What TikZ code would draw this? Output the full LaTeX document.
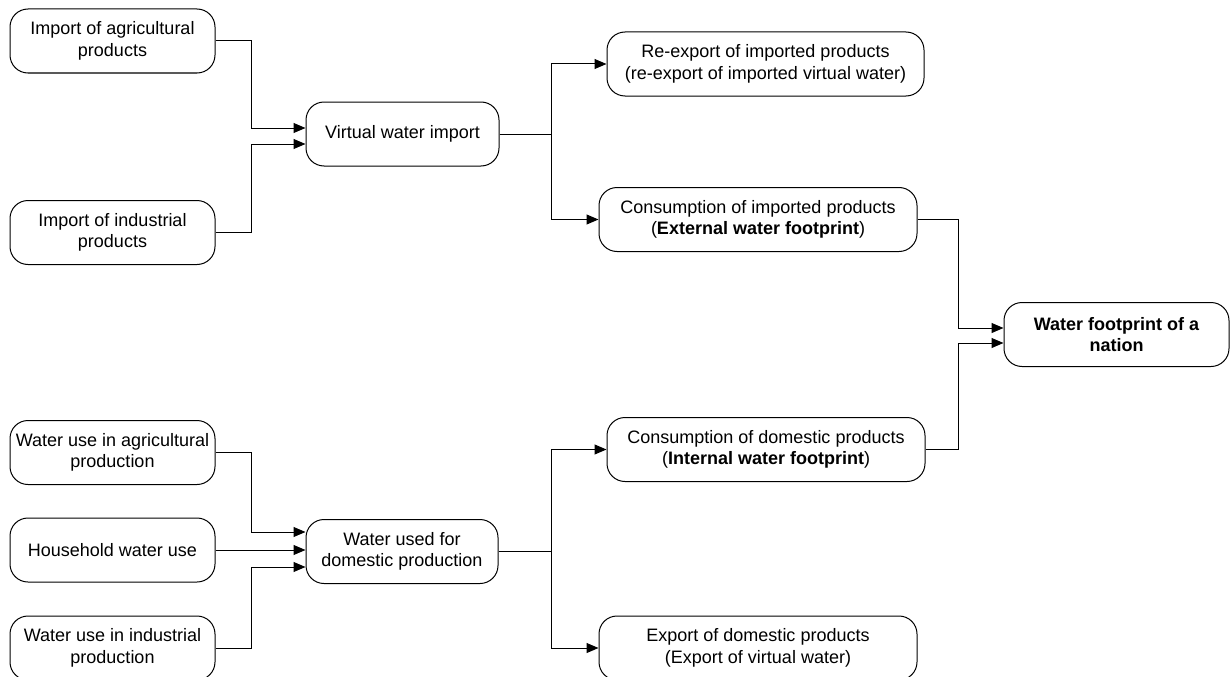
\documentclass[tikz,border=0pt]{standalone}
\usepackage{fontspec}
\setmainfont{Liberation Sans}
\usetikzlibrary{arrows.meta, positioning, calc}

\begin{document}
\begin{tikzpicture}[
    x=1pt, y=-1pt,
    block/.style={rectangle, rounded corners=18pt, draw=black, line width=1pt, minimum height=64pt, inner sep=1pt, align=center, font=\fontsize{18}{21.5}\selectfont},
    arrow/.style={-{Triangle[length=12pt, width=10pt]}, line width=1pt}
]
\useasboundingbox (0,0) rectangle (1231,677);

% Junction columns
\coordinate (jin) at (251.5,0);
\coordinate (jout) at (551.5,0);
\coordinate (jwf) at (958,0);

% Imports
\node[block, minimum width=205pt] (impagr) at (112.5,41) {Import of agricultural\\products};
\node[block, minimum width=205pt] (impind) at (112.5,232.5) {Import of industrial\\products};
\node[block, minimum width=193pt] (vwi) at (402.5,134) {Virtual water import};
\node[block, minimum width=317pt] (reexp) at (765.5,64) {Re-export of imported products\\(re-export of imported virtual water)};
\node[block, minimum width=318pt] (consimp) at (758,219.5) {Consumption of imported products\\(\textbf{External water footprint})};

% Nation
\node[block, minimum width=225pt] (wfn) at (1116.5,334.5) {\textbf{Water footprint of a}\\\textbf{nation}};

% Domestic
\node[block, minimum width=205pt] (wagr) at (112.5,452.5) {Water use in agricultural\\production};
\node[block, minimum width=205pt] (house) at (112.5,550) {Household water use};
\node[block, minimum width=205pt] (wind) at (112.5,648) {Water use in industrial\\production};
\node[block, minimum width=192pt] (wudp) at (402,551.5) {Water used for\\domestic production};
\node[block, minimum width=318pt] (consdom) at (766,449.5) {Consumption of domestic products\\(\textbf{Internal water footprint})};
\node[block, minimum width=318pt] (expdom) at (758,648) {Export of domestic products\\(Export of virtual water)};

% Arrows
\draw[arrow] (impagr.east) -- (impagr.east -| jin) |- ([yshift=6pt]vwi.west);
\draw[arrow] (impind.east) -- (impind.east -| jin) |- ([yshift=-10pt]vwi.west);
\draw[arrow] (vwi.east) -- (vwi.east -| jout) |- (reexp.west);
\draw[arrow] (vwi.east) -- (vwi.east -| jout) |- (consimp.west);
\draw[arrow] (consimp.east) -- (consimp.east -| jwf) |- ([yshift=6.5pt]wfn.west);
\draw[arrow] (consdom.east) -- (consdom.east -| jwf) |- ([yshift=-8.5pt]wfn.west);

\draw[arrow] (wagr.east) -- (wagr.east -| jin) |- ([yshift=19.5pt]wudp.west);
\draw[arrow] (house.east) -- (house.east -| wudp.west);
\draw[arrow] (wind.east) -- (wind.east -| jin) |- ([yshift=-15.5pt]wudp.west);
\draw[arrow] (wudp.east) -- (wudp.east -| jout) |- (consdom.west);
\draw[arrow] (wudp.east) -- (wudp.east -| jout) |- (expdom.west);

\end{tikzpicture}
\end{document}
